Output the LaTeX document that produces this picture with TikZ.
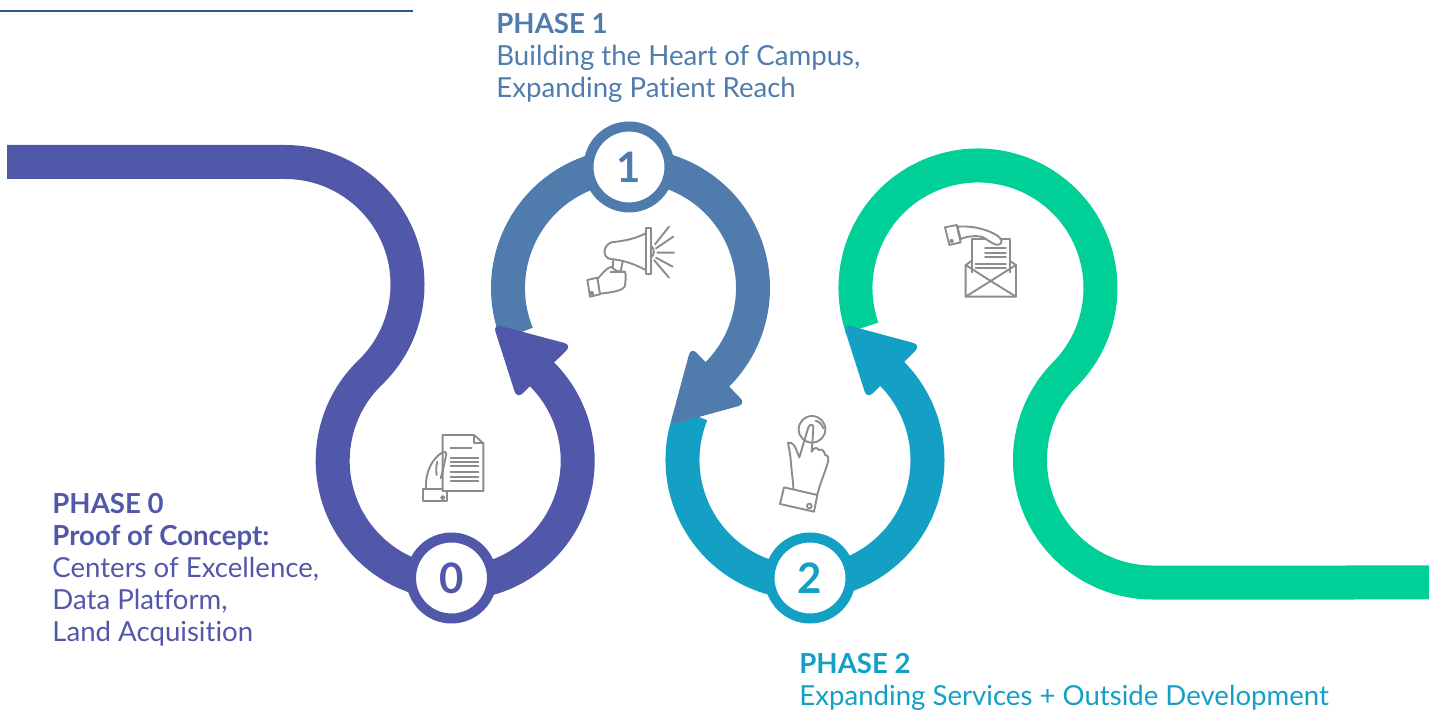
\documentclass[tikz,border=0pt]{standalone}
\usepackage{fontspec}
\setmainfont{Lato}[Ligatures=NoCommon]
\definecolor{phasezero}{HTML}{5158A9}
\definecolor{phaseone}{HTML}{4F7CAC}
\definecolor{phasetwo}{HTML}{14A0C4}
\definecolor{phaseend}{HTML}{00CF98}
\definecolor{icongray}{HTML}{8C8C8C}
\definecolor{rulecolor}{HTML}{2F5597}

\begin{document}
\begin{tikzpicture}[x=0.5pt,y=0.5pt]
    \tikzset{
        road/.style = {line width=17pt},
        head/.style = {rounded corners=4pt},
        ringnode/.style = {circle,fill=white,line width=5pt,minimum size=40.5pt,inner sep=0pt,
            font=\fontsize{21}{21}\selectfont\bfseries},
        phasetext/.style = {align=left,inner sep=0pt,anchor=north west,
            font=\fontsize{13.8}{16}\selectfont},
        icon/.style = {draw=icongray,line width=0.95pt,line join=round,line cap=round},
        zoomed/.style = {x=0.5pt/3,y=-0.5pt/3}
    }
    \useasboundingbox (0,0) rectangle (1434,711);
    \draw[rulecolor,line width=1pt] (0,699.5) -- (413,699.5);

    \coordinate (c1) at (630.5,423);
    \coordinate (c2) at (805,251);
    \coordinate (c3) at (978,423);

    % green, then back to front
    \draw[road,phaseend] (c3) ++(199:122.5) arc (199:-44.6:122.5) arc (135.4:270:122.5) -- (1429,128.5);
    \draw[road,phasetwo] (c2) ++(158:122.5) arc (158:408:122.5);
    \fill[head,phasetwo] (843,387) -- (921,366) -- (867,312) -- cycle;
    \draw[road,phaseone] (c1) ++(202:122.5) arc (202:-48:122.5);
    \fill[head,phaseone] (691,364) -- (746,307) -- (670,286) -- cycle;
    \draw[road,phasezero] (7,549) -- (285,549) arc (90:-46:122.5) arc (134:408:122.5);
    \fill[head,phasezero] (493,387) -- (572,366) -- (517,312) -- cycle;

    \node[ringnode,draw=phasezero,text=phasezero] (p0) at (451.5,133) {0};
    \node[ringnode,draw=phaseone,text=phaseone] (p1) at (629,544) {1};
    \node[ringnode,draw=phasetwo,text=phasetwo] (p2) at (810,133) {2};

    \node[phasetext,text=phasezero] (t0) at (52,218) {\textbf{PHASE 0}\\\textbf{Proof of Concept:}\\Centers of Excellence,\\Data Platform,\\Land Acquisition};
    \node[phasetext,text=phaseone] (t1) at (496,698) {\textbf{PHASE 1}\\Building the Heart of Campus,\\Expanding Patient Reach};
    \node[phasetext,text=phasetwo] (t2) at (799,58) {\textbf{PHASE 2}\\Expanding Services + Outside Development};

    % document in hand
    \begin{scope}[shift={(400,291)},zoomed]
        \draw[icon] (128,45) -- (222,45) -- (250,70) -- (250,213) -- (128,213) -- cycle;
        \draw[icon] (222,45) -- (222,70) -- (250,70);
        \draw[icon] (152,84) -- (215,84);
        \foreach \y in {113,125,137,157,170,182}
            \draw[icon] (152,\y) -- (235,\y);
        \draw[icon] (128,207) -- (70,207) -- (70,243) -- (140,243) -- (140,215);
        \draw[icon] (128,233) circle (5);
        \draw[icon] (78,205) .. controls (75,160) and (95,115) .. (128,97) .. controls (140,93) and (140,100) .. (137,112) .. controls (132,135) and (128,155) .. (122,175);
        \draw[icon] (112,125) .. controls (108,140) and (108,150) .. (110,165);
    \end{scope}

    % megaphone in hand
    \begin{scope}[shift={(570,496)},zoomed]
        \draw[icon] (227,40) rectangle (242,178);
        \draw[icon] (227,55) .. controls (195,72) and (160,78) .. (125,82) .. controls (100,90) and (95,125) .. (120,132) .. controls (160,135) and (195,148) .. (227,165);
        \draw[icon] (130,134) -- (128,158) (158,140) -- (152,170);
        \draw[icon] (242,92) .. controls (255,100) and (255,120) .. (242,128);
        \draw[icon] (255,88) -- (297,35) (258,100) -- (310,65) (262,113) -- (312,113) (258,128) -- (308,155) (252,135) -- (297,188);
        \draw[icon] (52,195) -- (82,188) -- (90,238) -- (60,245) -- cycle;
        \draw[icon] (65,235) circle (5);
        \draw[icon] (82,192) .. controls (95,180) and (105,160) .. (125,155) .. controls (130,165) and (145,172) .. (165,170) .. controls (170,185) and (165,200) .. (165,212) .. controls (160,228) and (125,232) .. (90,236);
        \draw[icon] (122,170) -- (160,170);
    \end{scope}

    % finger on button
    \begin{scope}[shift={(760,311)},zoomed]
        \draw[icon] (156,88) circle (40);
        \draw[icon] (167,62) .. controls (178,65) and (187,75) .. (190,85);
        \draw[icon] (118,172) -- (145,82) .. controls (150,70) and (162,72) .. (160,85) -- (155,155);
        \draw[icon] (118,172) -- (105,140) .. controls (98,130) and (90,125) .. (84,128) .. controls (88,150) and (92,170) .. (93,190) .. controls (95,220) and (100,245) .. (100,266);
        \draw[icon] (155,155) .. controls (160,143) and (172,140) .. (176,150) .. controls (185,145) and (195,155) .. (195,165) .. controls (205,165) and (206,175) .. (204,185) .. controls (198,210) and (180,250) .. (172,284);
        \draw[icon] (72,262) -- (172,285) -- (162,335) -- (60,312) -- cycle;
        \draw[icon] (148,318) circle (7);
    \end{scope}

    % letter in envelope
    \begin{scope}[shift={(930,496)},zoomed]
        \draw[icon] (125,172) -- (125,72) -- (240,72) -- (240,172);
        \draw[icon] (107,150) -- (107,245) -- (258,245) -- (258,150) -- (182,198) -- cycle;
        \draw[icon] (107,245) -- (182,198) -- (258,245);
        \draw[icon] (107,150) -- (125,138) (258,150) -- (240,138);
        \foreach \y in {100,113,126}
            \draw[icon] (165,\y) -- (228,\y);
        \foreach \y in {148,160}
            \draw[icon] (137,\y) -- (228,\y);
        \draw[icon,fill=white] (82,35) .. controls (120,32) and (160,40) .. (190,55) .. controls (205,62) and (220,75) .. (213,85) .. controls (205,95) and (190,88) .. (165,70) .. controls (150,60) and (115,62) .. (92,72) -- cycle;
        \draw[icon,fill=white] (45,37) -- (80,30) -- (92,82) -- (58,90) -- cycle;
        \draw[icon] (65,78) circle (4);
    \end{scope}
\end{tikzpicture}
\end{document}
